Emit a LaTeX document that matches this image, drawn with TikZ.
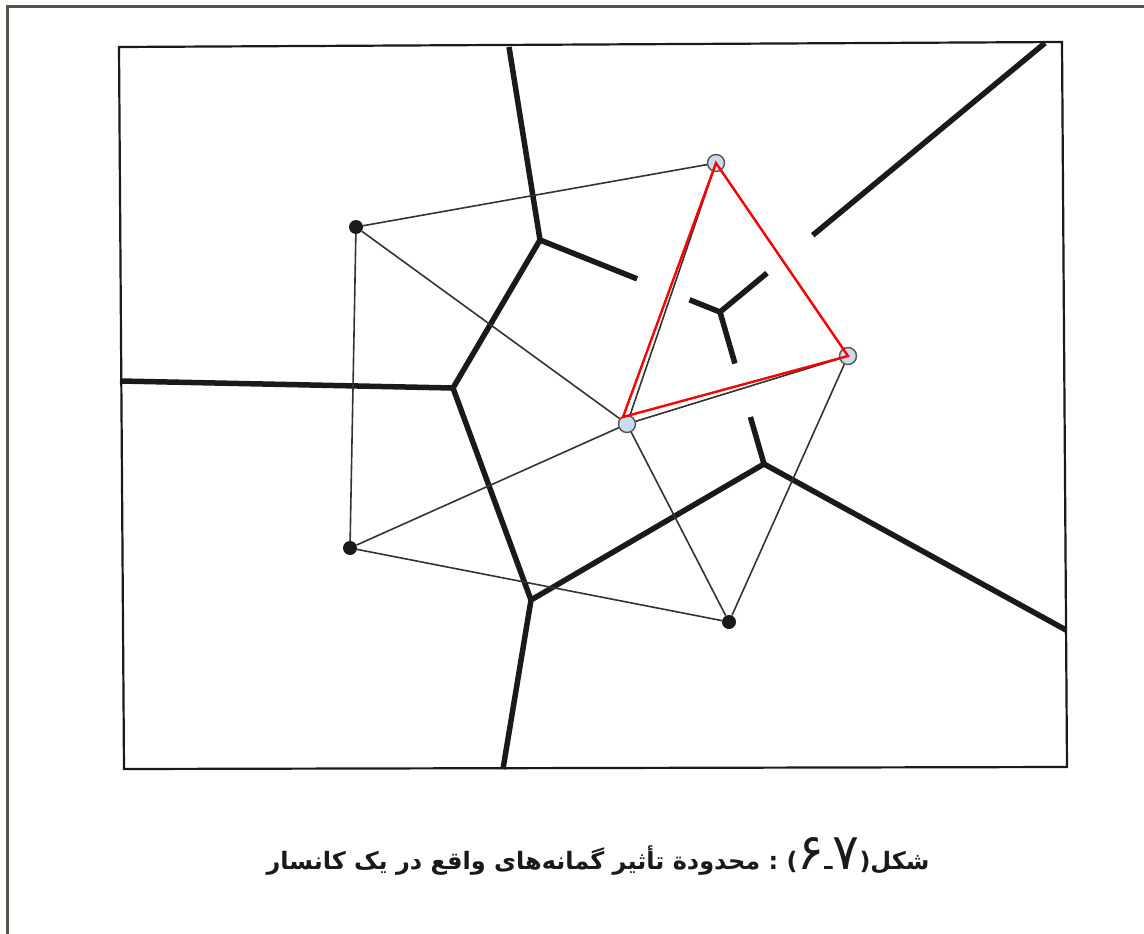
\documentclass[tikz,border=0pt]{standalone}
\usepackage{fontspec}
\newfontfamily\arabicfont[Script=Arabic]{DejaVu Sans}
\newfontfamily\latinfont{DejaVu Sans}
\TeXXeTstate=1
\usetikzlibrary{calc}
\definecolor{framec}{HTML}{5B5349}
\definecolor{inkc}{HTML}{1A1A1A}
\definecolor{thinc}{HTML}{333333}
\definecolor{bluec}{HTML}{C9DCEF}
\definecolor{redc}{HTML}{FF0000}
\newcommand{\bigdigit}[1]{{\mdseries\fontsize{50}{50}\selectfont #1}}
\newcommand{\latparen}[1]{{\latinfont\bfseries #1}}
\tikzset{
  voro/.style={line width=5.5pt, draw=inkc, line join=round},
  gapline/.style={line width=10pt, draw=white},
  dela/.style={line width=1.6pt, draw=thinc},
  redline/.style={line width=2.4pt, draw=redc, line join=miter},
  blacksite/.style={circle, fill=inkc, minimum size=14pt, inner sep=0pt},
  bluesite/.style={circle, fill=bluec, draw=framec, line width=1.4pt, minimum size=17pt, inner sep=0pt},
  captext/.style={font=\arabicfont\bfseries\fontsize{24}{30}\selectfont, text=inkc}
}
\begin{document}
\begin{tikzpicture}[x=1pt,y=-1pt]
\useasboundingbox (0,0) rectangle (1144,934);
\fill[white] (0,0) rectangle (1144,934);
% outer page frame
\draw[framec, line width=3pt] (7,934) -- (7,7) -- (1144,7);
% inner frame
\coordinate (R1) at (119,47);
\coordinate (R2) at (1062,42);
\coordinate (R3) at (1067,767);
\coordinate (R4) at (124,769);
\draw[inkc, line width=2.2pt] (R1) -- (R2) -- (R3) -- (R4) -- cycle;
% Voronoi vertices
\coordinate (V1) at (540,240);
\coordinate (V2) at (453,388);
\coordinate (V3) at (531,600);
\coordinate (V4) at (764,464);
\coordinate (V5) at (720,312);
% border ends
\coordinate (Btop) at (509,47);
\coordinate (Bleft) at (120,381);
\coordinate (Bbot) at (503,769);
\coordinate (Bright) at (1066,630);
\coordinate (Btr) at (1045,43);
% Voronoi edges
\draw[voro] (Btop) -- (V1) -- (V2) -- (Bleft);
\draw[voro] (V2) -- (V3) -- (Bbot);
\draw[voro] (V3) -- (V4) -- (Bright);
\draw[voro] (V4) -- (V5) -- (V1);
\draw[voro] (V5) -- (Btr);
% white gaps where the red triangle crosses
\draw[gapline] ($(V5)!0.17!(V1)$) -- ($(V5)!0.46!(V1)$);
\draw[gapline] ($(V5)!0.145!(Btr)$) -- ($(V5)!0.285!(Btr)$);
\draw[gapline] ($(V5)!0.34!(V4)$) -- ($(V5)!0.69!(V4)$);
% sites
\node[blacksite] (A) at (356,227) {};
\node[blacksite] (B) at (350,548) {};
\node[blacksite] (C) at (729,622) {};
\node[bluesite] (D) at (716,163) {};
\node[bluesite] (E) at (848,356) {};
\node[bluesite] (F) at (627,424) {};
% Delaunay edges
\draw[dela] (A) -- (D);
\draw[dela] (A) -- (F);
\draw[dela] (A) -- (B);
\draw[dela] (B) -- (F);
\draw[dela] (B) -- (C);
\draw[dela] (C) -- (F);
\draw[dela] (C) -- (E);
\draw[dela] (D) -- (F);
\draw[dela] (F) -- (E);
\draw[dela] (D) -- (E);
% red triangle
\draw[redline] (D.center) -- (E.center) -- ([xshift=-4pt,yshift=7pt]F.center) -- cycle;
% caption (laid out left to right in visual order)
\node[captext, inner sep=0pt] (cap) at (598,856)
  {\hbox{\beginR محدودة تأثیر گمانه‌های واقع در یک کانسار\endR}\ :\ \latparen{(}\bigdigit{۶}\hbox{ـ}\bigdigit{۷}\latparen{)}\hbox{شکل}};
\end{tikzpicture}
\end{document}
